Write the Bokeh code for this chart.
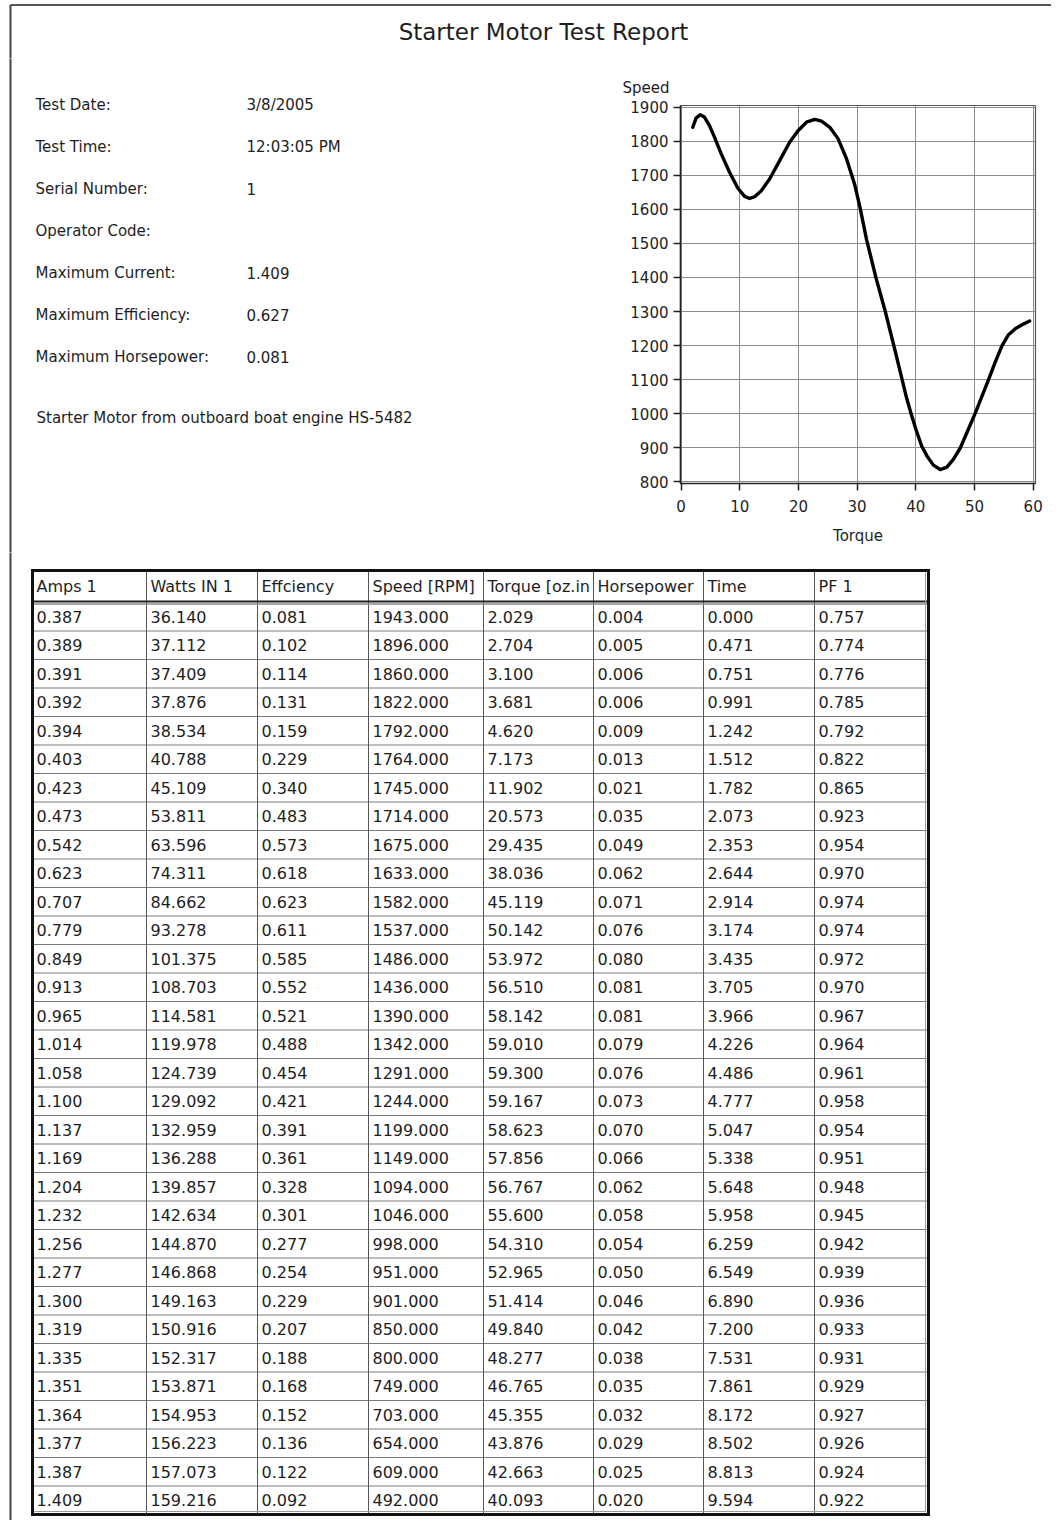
from bokeh.plotting import figure
from bokeh.layouts import column, row
from bokeh.models import ColumnDataSource, Range1d, FixedTicker, Title
from bokeh.core.properties import value
from bokeh.embed import file_html
from bokeh.resources import INLINE

FONT = "DejaVu Sans"

# ---------------- data ----------------
report_title = "Starter Motor Test Report"
info_labels = ["Test Date:", "Test Time:", "Serial Number:", "Operator Code:",
               "Maximum Current:", "Maximum Efficiency:", "Maximum Horsepower:"]
info_values = ["3/8/2005", "12:03:05 PM", "1", "", "1.409", "0.627", "0.081"]
description = "Starter Motor from outboard boat engine HS-5482"

# curve (Torque vs Speed)
curve_torque = [2.0, 2.55, 3.25, 3.98, 4.84, 5.69, 6.84, 8.26, 9.68, 10.82, 11.68, 12.53,
                13.68, 15.09, 16.8, 18.5, 19.93, 21.37, 22.79, 23.93, 25.35, 26.77, 28.2,
                29.6, 30.5, 31.6, 33.2, 34.8, 36.4, 37.6, 38.4, 39.2, 40.0, 41.0, 41.9,
                43.0, 44.15, 45.3, 46.4, 47.6, 48.7, 50.1, 51.3, 52.4, 53.5, 54.7, 55.8,
                57.0, 58.2, 59.4]
curve_speed = [1841, 1868, 1878, 1871, 1846, 1812, 1763, 1709, 1662, 1638, 1632, 1637,
               1655, 1689, 1743, 1797, 1831, 1856, 1864, 1859, 1841, 1807, 1748,
               1672, 1605, 1512, 1400, 1300, 1190, 1105, 1048, 1000, 955, 905, 876,
               849, 836, 843, 866, 900, 944, 1000, 1052, 1100, 1150, 1200, 1232,
               1250, 1262, 1272]
x_ticks = [0, 10, 20, 30, 40, 50, 60]
y_ticks = [800, 900, 1000, 1100, 1200, 1300, 1400, 1500, 1600, 1700, 1800, 1900]

table_headers = ["Amps 1", "Watts IN 1", "Effciency", "Speed [RPM]", "Torque [oz.in",
                 "Horsepower", "Time", "PF 1"]
amps = [0.387, 0.389, 0.391, 0.392, 0.394, 0.403, 0.423, 0.473, 0.542, 0.623, 0.707, 0.779,
        0.849, 0.913, 0.965, 1.014, 1.058, 1.100, 1.137, 1.169, 1.204, 1.232, 1.256, 1.277,
        1.300, 1.319, 1.335, 1.351, 1.364, 1.377, 1.387, 1.409]
watts_in = [36.140, 37.112, 37.409, 37.876, 38.534, 40.788, 45.109, 53.811, 63.596, 74.311,
            84.662, 93.278, 101.375, 108.703, 114.581, 119.978, 124.739, 129.092, 132.959,
            136.288, 139.857, 142.634, 144.870, 146.868, 149.163, 150.916, 152.317, 153.871,
            154.953, 156.223, 157.073, 159.216]
efficiency = [0.081, 0.102, 0.114, 0.131, 0.159, 0.229, 0.340, 0.483, 0.573, 0.618, 0.623,
              0.611, 0.585, 0.552, 0.521, 0.488, 0.454, 0.421, 0.391, 0.361, 0.328, 0.301,
              0.277, 0.254, 0.229, 0.207, 0.188, 0.168, 0.152, 0.136, 0.122, 0.092]
speed_rpm = [1943.0, 1896.0, 1860.0, 1822.0, 1792.0, 1764.0, 1745.0, 1714.0, 1675.0, 1633.0,
             1582.0, 1537.0, 1486.0, 1436.0, 1390.0, 1342.0, 1291.0, 1244.0, 1199.0, 1149.0,
             1094.0, 1046.0, 998.0, 951.0, 901.0, 850.0, 800.0, 749.0, 703.0, 654.0, 609.0,
             492.0]
torque = [2.029, 2.704, 3.100, 3.681, 4.620, 7.173, 11.902, 20.573, 29.435, 38.036, 45.119,
          50.142, 53.972, 56.510, 58.142, 59.010, 59.300, 59.167, 58.623, 57.856, 56.767,
          55.600, 54.310, 52.965, 51.414, 49.840, 48.277, 46.765, 45.355, 43.876, 42.663,
          40.093]
horsepower = [0.004, 0.005, 0.006, 0.006, 0.009, 0.013, 0.021, 0.035, 0.049, 0.062, 0.071,
              0.076, 0.080, 0.081, 0.081, 0.079, 0.076, 0.073, 0.070, 0.066, 0.062, 0.058,
              0.054, 0.050, 0.046, 0.042, 0.038, 0.035, 0.032, 0.029, 0.025, 0.020]
time_s = [0.000, 0.471, 0.751, 0.991, 1.242, 1.512, 1.782, 2.073, 2.353, 2.644, 2.914, 3.174,
          3.435, 3.705, 3.966, 4.226, 4.486, 4.777, 5.047, 5.338, 5.648, 5.958, 6.259, 6.549,
          6.890, 7.200, 7.531, 7.861, 8.172, 8.502, 8.813, 9.594]
pf1 = [0.757, 0.774, 0.776, 0.785, 0.792, 0.822, 0.865, 0.923, 0.954, 0.970, 0.974, 0.974,
       0.972, 0.970, 0.967, 0.964, 0.961, 0.958, 0.954, 0.951, 0.948, 0.945, 0.942, 0.939,
       0.936, 0.933, 0.931, 0.929, 0.927, 0.926, 0.924, 0.922]

# ---------------- layout constants (reference pixel coordinates) ----------------
PAGE_L, PAGE_R, PAGE_T, PAGE_B = 0, 1051, 0, 1520
TITLE_B = 58
ROW_B = 552
SPLIT_X = 600
BORDER_X = 10
TXT = "#1e1e1e"


def blank(w, h, xr, yr):
    p = figure(width=w, height=h, x_range=Range1d(*xr), y_range=Range1d(*yr),
               output_backend="svg", toolbar_location=None, min_border=0,
               x_axis_location=None, y_axis_location=None)
    p.xgrid.visible = False
    p.ygrid.visible = False
    p.outline_line_color = None
    p.background_fill_color = "white"
    p.border_fill_color = "white"
    return p


# ---------------- title strip ----------------
tp = blank(PAGE_R - PAGE_L, TITLE_B - PAGE_T, (PAGE_L, PAGE_R), (TITLE_B, PAGE_T))
tp.segment(x0=[BORDER_X], y0=[4.5], x1=[PAGE_R + 5], y1=[4.5], line_color="#555555", line_width=2)
tp.segment(x0=[BORDER_X], y0=[4.5], x1=[BORDER_X], y1=[TITLE_B + 5], line_color="#444444", line_width=2)
tp.text(x=[543], y=[31], text=[report_title], text_font=value(FONT), text_font_size="23px",
        text_align="center", text_baseline="middle", text_color=TXT)

# ---------------- info block ----------------
ip = blank(SPLIT_X - PAGE_L, ROW_B - TITLE_B, (PAGE_L, SPLIT_X), (ROW_B, TITLE_B))
ip.segment(x0=[BORDER_X], y0=[TITLE_B - 5], x1=[BORDER_X], y1=[ROW_B + 5], line_color="#444444", line_width=2)
info_y = [104 + 42 * i for i in range(len(info_labels))]
ip.text(x=[35] * len(info_labels), y=info_y, text=info_labels, text_font=value(FONT),
        text_font_size="15px", text_baseline="middle", text_color=TXT)
ip.text(x=[246] * len(info_values), y=info_y, text=info_values, text_font=value(FONT),
        text_font_size="15px", text_baseline="middle", text_color=TXT)
ip.text(x=[36], y=[417], text=[description], text_font=value(FONT), text_font_size="15px",
        text_baseline="middle", text_color=TXT)

# ---------------- chart ----------------
cp = figure(width=PAGE_R - SPLIT_X, height=ROW_B - TITLE_B,
            x_range=Range1d(-0.1, 60.4), y_range=Range1d(795, 1905),
            output_backend="svg", toolbar_location=None,
            min_border_left=80, min_border_right=16, min_border_top=47, min_border_bottom=69)
cp.add_layout(Title(text="Speed", align="left", offset=-58, standoff=17,
                    text_font=FONT, text_font_size="15px", text_font_style="normal",
                    text_color=TXT), "above")
cp.line(curve_torque, curve_speed, line_color="black", line_width=3.4,
        line_join="round", line_cap="round")
cp.xaxis.ticker = FixedTicker(ticks=x_ticks)
cp.yaxis.ticker = FixedTicker(ticks=y_ticks)
cp.xaxis.axis_label = "Torque"
for ax in (cp.xaxis, cp.yaxis):
    ax.major_label_text_font = FONT
    ax.major_label_text_font_size = "15px"
    ax.major_label_text_color = TXT
    ax.axis_label_text_font = FONT
    ax.axis_label_text_font_size = "15px"
    ax.axis_label_text_font_style = "normal"
    ax.axis_label_text_color = TXT
    ax.minor_tick_line_color = None
    ax.major_tick_in = 0
    ax.major_tick_out = 7
    ax.major_tick_line_color = "#222222"
    ax.major_tick_line_width = 1.5
    ax.axis_line_color = "#222222"
    ax.axis_line_width = 1.5
cp.xaxis.major_label_standoff = 9
cp.xaxis.axis_label_standoff = 12
cp.yaxis.major_label_standoff = 5
cp.grid.grid_line_color = "#8c8c8c"
cp.grid.grid_line_width = 1
cp.outline_line_color = "#555555"
cp.outline_line_width = 1.2

# ---------------- table ----------------
TBL_L, TBL_R, TBL_T, HDR_B = 32, 928, 570, 602
ROW_H = 28.5
col_lines = [146, 257, 368, 483, 593, 703, 814]
col_left = [TBL_L] + col_lines
columns_data = [amps, watts_in, efficiency, speed_rpm, torque, horsepower, time_s, pf1]
n_rows = len(amps)
TBL_B = HDR_B + ROW_H * n_rows

tb = blank(PAGE_R - PAGE_L, PAGE_B - ROW_B, (PAGE_L, PAGE_R), (PAGE_B, ROW_B))
tb.segment(x0=[BORDER_X], y0=[ROW_B - 5], x1=[BORDER_X], y1=[PAGE_B + 5], line_color="#444444", line_width=2)

ry = [HDR_B + ROW_H * k for k in range(1, n_rows)]
tb.segment(x0=[TBL_L] * len(ry), y0=ry, x1=[TBL_R] * len(ry), y1=ry,
           line_color="#7a7a7a", line_width=1)
tb.segment(x0=col_lines, y0=[TBL_T] * len(col_lines), x1=col_lines, y1=[TBL_B] * len(col_lines),
           line_color="#555555", line_width=1)
tb.segment(x0=[TBL_L, TBL_L], y0=[HDR_B - 1, HDR_B + 1.5], x1=[TBL_R, TBL_R], y1=[HDR_B - 1, HDR_B + 1.5],
           line_color=["#222222", "#8a8a8a"], line_width=[2, 1.5])
tb.segment(x0=[TBL_L, TBL_L, TBL_L, TBL_R], y0=[TBL_T, TBL_B, TBL_T, TBL_T],
           x1=[TBL_R, TBL_R, TBL_L, TBL_R], y1=[TBL_T, TBL_B, TBL_B, TBL_B],
           line_color="#111111", line_width=3, line_cap="square")
tb.segment(x0=[TBL_R - 3, TBL_L + 2], y0=[TBL_T + 2, TBL_B - 3], x1=[TBL_R - 3, TBL_R - 3], y1=[TBL_B - 3, TBL_B - 3],
           line_color="#9a9a9a", line_width=1)

tb.text(x=[c + 4 for c in col_left], y=[(TBL_T + HDR_B) / 2] * len(table_headers),
        text=table_headers, text_font=value(FONT), text_font_size="16px",
        text_baseline="middle", text_color=TXT)

cell_x, cell_y, cell_t = [], [], []
for ci, vals in enumerate(columns_data):
    for ri, v in enumerate(vals):
        cell_x.append(col_left[ci] + 4)
        cell_y.append(HDR_B + ROW_H * (ri + 0.5))
        cell_t.append(f"{v:.3f}")
tb.text(x="x", y="y", text="t", source=ColumnDataSource(dict(x=cell_x, y=cell_y, t=cell_t)),
        text_font=value(FONT), text_font_size="16px", text_baseline="middle", text_color=TXT)

page = column(tp, row(column(ip), cp), tb)
open("out.html", "w").write(file_html(page, INLINE))
